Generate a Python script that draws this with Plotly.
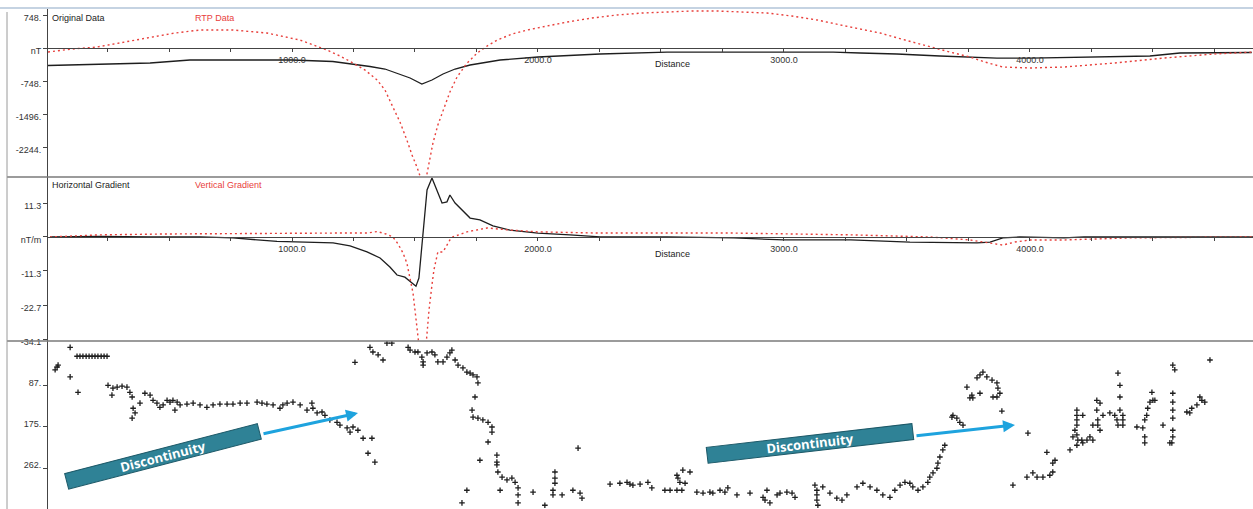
import plotly.graph_objects as go

# ---------------- Panel 1: Original Data / RTP Data (nT) ----------------
orig_dist = [8, 219, 423, 585, 829, 999, 1166, 1248, 1317, 1378, 1439, 1480, 1528, 1569, 1614, 1663,
             1724, 1846, 2000, 2252, 2525, 2797, 3000, 3200, 3310, 3459, 3634, 3756, 3866, 4000,
             4244, 4488, 4610, 4801, 4902]
orig_val = [-397, -374, -340, -272, -272, -272, -306, -363, -419, -476, -589, -680, -816, -725, -589, -476,
            -385, -272, -204, -136, -91, -91, -91, -91, -113, -136, -181, -204, -227, -227,
            -204, -181, -113, -113, -102]

rtp_dist = [8, 106, 207, 321, 423, 524, 626, 760, 898, 1032, 1142, 1195, 1248, 1297, 1346, 1378, 1410,
            1439, 1467, 1488, 1508, 1524, 1545, 1573, 1593, 1614, 1642, 1671, 1712, 1753, 1793, 1834,
            1895, 1956, 2037, 2118, 2220, 2321, 2423, 2525, 2626, 2728, 2830, 2931, 3033, 3135, 3269,
            3391, 3492, 3594, 3675, 3756, 3817, 3890, 4000, 4139, 4342, 4545, 4749, 4907]
rtp_val = [-91, -23, 23, 136, 249, 340, 408, 408, 340, 181, -45, -181, -340, -499, -725, -952, -1337,
           -1678, -2085, -2426, -2698, -2960, -2960, -2154, -1746, -1405, -997, -657, -340, -113, 45, 181,
           317, 408, 499, 589, 680, 748, 793, 816, 839, 839, 816, 793, 725, 635, 476,
           340, 181, 23, -91, -204, -317, -431, -453, -431, -340, -227, -136, -91]

# ---------------- Panel 2: Horizontal / Vertical Gradient (nT/m) ----------------
hgrad_dist = [16, 219, 423, 626, 760, 939, 1167, 1236, 1305, 1358, 1398, 1427, 1459, 1492, 1504, 1516,
              1532, 1549, 1569, 1589, 1610, 1630, 1642, 1663, 1691, 1724, 1764, 1817, 1886, 2000, 2130,
              2252, 2525, 2797, 3000, 3272, 3512, 3675, 3785, 3838, 3890, 3959, 4139, 4220, 4907]
hgrad_val = [0, 0.2, 0, 0, -0.3, -1.5, -2, -3, -5, -7, -10, -12.7, -13.4, -15.7, -16.4, -13.7,
             0, 15.7, 19.7, 15.7, 11.3, 11.7, 14, 11.3, 9, 6.3, 5.7, 3.7, 2.3, 1.3, 0.7,
             0, 0, -0.3, -1, -1, -1.7, -2, -2, -1.7, -0.3, 0, -0.3, 0, 0]

vgrad_dist = [16, 219, 492, 898, 1167, 1305, 1346, 1382, 1410, 1431, 1451, 1467, 1480, 1492, 1500, 1508,
              1516, 1545, 1557, 1569, 1577, 1593, 1614, 1642, 1654, 1711, 1793, 1886, 2000, 2252, 2797,
              3272, 3594, 3756, 3838, 3890, 3939, 4000, 4139, 4411, 4907]
vgrad_val = [0, 0.7, 1, 1.3, 1.3, 1.3, 1.8, 1, 0, -2.3, -5.3, -8.7, -13.4, -18.7, -24.4, -29.4,
             -36, -36, -24.4, -16, -11, -5, -5, -1, 0, 1.7, 3, 2.3, 1.7, 1.3, 1.3,
             0.7, 0, -1, -2, -2.7, -1.7, -1, -1, -0.3, 0]

# ---------------- Panel 3: scattered points (inverted axis) ----------------
pts_a_dist = [37, 45, 49, 98, 98, 130, 126, 138, 150, 163, 175, 187, 199, 211, 224, 236, 248,
              252, 268, 272, 289, 309, 329, 341, 350, 354, 362, 350, 382, 402, 423, 435, 451, 463,
              476, 492, 504, 516, 524, 533, 545, 573, 598, 626, 654, 679, 707, 736, 760, 789, 817,
              858, 878, 898, 923, 951, 963, 980, 1004, 1033, 1061, 1081, 1085, 1102, 1122, 1134,
              1154, 1183, 1195, 1224, 1236, 1248, 1268, 1289, 1325, 1309, 1337]
pts_a_val = [53, 47, 43, 5, 68, 101, 24, 24, 24, 24, 24, 24, 24, 24, 24, 24, 24,
             86, 107, 92, 90, 88, 90, 101, 111, 135, 145, 156, 124, 103, 107, 118, 124, 133,
             128, 118, 122, 118, 139, 122, 128, 126, 124, 128, 133, 128, 126, 126, 126, 124, 124,
             122, 124, 126, 128, 135, 128, 124, 122, 128, 139, 124, 135, 145, 143, 150,
             160, 165, 171, 177, 186, 175, 182, 199, 199, 231, 250]

pts_b_dist = [1256, 1317, 1329, 1350, 1370, 1386, 1406, 1480, 1500, 1472, 1512, 1528, 1533, 1533,
              1549, 1569, 1581, 1593, 1614, 1630, 1642, 1650, 1663, 1675, 1695, 1711, 1724, 1736,
              1752, 1756, 1744, 1732, 1736, 1756, 1776, 1797, 1813, 1813, 1797, 1764, 1833, 1833,
              1833, 1837, 1854, 1874, 1894, 1907, 1919, 1919, 1980, 1846, 1711, 1691, 1919, 2028,
              2069, 2069, 2069, 2061, 2061, 2098, 2163, 2142, 2171, 2179]
pts_b_val = [37, 5, 15, 21, 32, -4, -4, 11, 15, 5, 15, 26, 36, 43,
             17, 15, 21, 36, 36, 26, 17, 11, 32, 43, 49, 58, 60, 64,
             68, 81, 111, 139, 154, 156, 160, 165, 175, 186, 207, 246, 235, 250,
             256, 271, 282, 288, 284, 293, 305, 320, 314, 310, 310, 337, 337, 342,
             271, 284, 295, 310, 320, 320, 220, 310, 316, 327]

pts_c_dist = [2293, 2333, 2362, 2374, 2386, 2415, 2447, 2463, 2516, 2537, 2565, 2585, 2565, 2569,
              2577, 2598, 2618, 2589, 2646, 2671, 2699, 2711, 2740, 2760, 2772, 2809, 2862, 2915,
              2923, 2931, 2943, 2972, 2984, 3012, 3033, 3045, 3126, 3134, 3134, 3134, 3138, 3158,
              3187, 3215, 3236, 3256, 3297, 3321, 3350, 3378, 3402, 3431, 3451, 3472, 3492, 3512,
              3524, 3545, 3565, 3585, 3593, 3606, 3622, 3626, 3634, 3646, 3654]
pts_c_val = [297, 295, 293, 297, 299, 297, 293, 305, 310, 310, 310, 310, 278, 284,
             293, 295, 271, 267, 314, 316, 314, 316, 310, 314, 305, 320, 316, 325,
             331, 310, 337, 320, 316, 314, 316, 325, 299, 310, 320, 331, 342, 303,
             316, 327, 331, 320, 303, 295, 303, 310, 320, 325, 310, 299, 293, 295,
             303, 310, 303, 293, 282, 273, 263, 252, 239, 224, 214]

pts_d_dist = [3683, 3687, 3703, 3715, 3728, 3744, 3756, 3764, 3768, 3785, 3797, 3797, 3809, 3825,
              3846, 3850, 3866, 3866, 3870, 3878, 3886, 3931, 3988, 3992, 4012, 4029, 4053, 4069,
              4081, 4093, 4093, 4102, 4163, 4175, 4183, 4191, 4191, 4191, 4191, 4191, 4191, 4195,
              4211, 4215, 4215, 4232, 4244, 4256, 4256, 4272, 4272, 4276, 4276, 4285, 4285, 4297,
              4325, 4345, 4354, 4358, 4358, 4366, 4366, 4366, 4378, 4378, 4378, 4435, 4459, 4467,
              4467, 4467, 4475, 4479, 4488, 4496, 4500, 4508, 4541, 4569, 4577, 4581, 4589, 4581,
              4581, 4581, 4581, 4581, 4581, 4638, 4650, 4658, 4679, 4691, 4699, 4711, 4732]
pts_d_val = [154, 150, 156, 165, 171, 90, 113, 107, 113, 70, 64, 103, 58, 68,
             75, 111, 81, 111, 92, 103, 141, 299, 282, 188, 273, 282, 282, 229,
             278, 271, 252, 246, 224, 196, 182, 214, 192, 171, 160, 150, 139, 203,
             203, 209, 150, 203, 196, 203, 171, 118, 139, 160, 171, 124, 182, 150,
             145, 150, 160, 171, 60, 86, 111, 139, 150, 160, 171, 175, 177, 160,
             196, 209, 150, 135, 122, 101, 118, 118, 171, 209, 209, 43, 53, 103,
             122, 139, 156, 182, 196, 143, 145, 135, 128, 111, 118, 122, 32]

# ---------------- Axis tick labels ----------------
p1_tickvals = [748, 0, -748, -1496, -2244]
p1_ticktext = ["748.", "nT", "-748.", "-1496.", "-2244."]
p2_tickvals = [11.3, 0, -11.3, -22.7, -34.1]
p2_ticktext = ["11.3", "nT/m", "-11.3", "-22.7", "-34.1"]
p3_tickvals = [87.5, 175, 262.5]
p3_ticktext = ["87.", "175.", "262."]

W, H = 1253, 509
L = 48
PW = W - L


def px(xp):
    return (xp - L) / PW


def py(yp):
    return 1 - yp / H


BLACK = "#1e1e1e"
RED = "#e8403c"
TICKFONT = dict(family="Liberation Sans, Arial, sans-serif", size=9, color="#333333")

fig = go.Figure()
fig.add_trace(go.Scatter(x=orig_dist, y=orig_val, mode="lines", line=dict(color=BLACK, width=1.3),
                         xaxis="x", yaxis="y", showlegend=False))
fig.add_trace(go.Scatter(x=rtp_dist, y=rtp_val, mode="lines", line=dict(color=RED, width=1.4, dash="2px,3px"),
                         xaxis="x", yaxis="y", showlegend=False))
fig.add_trace(go.Scatter(x=hgrad_dist, y=hgrad_val, mode="lines", line=dict(color=BLACK, width=1.3),
                         xaxis="x2", yaxis="y2", showlegend=False))
fig.add_trace(go.Scatter(x=vgrad_dist, y=vgrad_val, mode="lines", line=dict(color=RED, width=1.4, dash="2px,3px"),
                         xaxis="x2", yaxis="y2", showlegend=False))
for dd, vv in [(pts_a_dist, pts_a_val), (pts_b_dist, pts_b_val), (pts_c_dist, pts_c_val), (pts_d_dist, pts_d_val)]:
    fig.add_trace(go.Scatter(x=dd, y=vv, mode="markers",
                             marker=dict(symbol="cross-thin", size=4, color=BLACK,
                                         line=dict(color=BLACK, width=1.3)),
                             xaxis="x3", yaxis="y3", showlegend=False, cliponaxis=True))

xrange = [8, 4907]
common_x = dict(range=xrange, showgrid=False, zeroline=False, showline=True, linecolor="#444444",
                linewidth=1, ticks="outside", ticklen=3, tickcolor="#444444", tickformat=".1f",
                dtick=1000, tick0=0, tickfont=TICKFONT, domain=[0, 1], automargin=False,
                minor=dict(ticks="outside", ticklen=3, dtick=250, tick0=0, tickcolor="#444444"))
common_y = dict(showgrid=False, zeroline=False, showline=True, linecolor="#444444", linewidth=1,
                ticks="outside", ticklen=4, tickcolor="#444444", tickfont=TICKFONT, ticklabelshift=3,
                automargin=False)

fig.update_layout(
    width=W, height=H,
    margin=dict(l=L, r=0, t=0, b=0, autoexpand=False),
    paper_bgcolor="white", plot_bgcolor="white",
    xaxis=dict(common_x, anchor="free", position=py(48)),
    yaxis=dict(common_y, domain=[py(177), py(8)], range=[-2924, 907], anchor="x",
               tickmode="array", tickvals=p1_tickvals, ticktext=p1_ticktext),
    xaxis2=dict(common_x, anchor="free", position=py(237)),
    yaxis2=dict(common_y, domain=[py(341), py(177)], range=[-34.7, 20.0], anchor="x2",
                tickmode="array", tickvals=p2_tickvals, ticktext=p2_ticktext),
    xaxis3=dict(range=xrange, visible=False, domain=[0, 1], anchor="y3", automargin=False),
    yaxis3=dict(common_y, domain=[0, py(341)], range=[350, -8.5], anchor="x3",
                tickmode="array", tickvals=p3_tickvals, ticktext=p3_ticktext),
)

# frame lines
shapes = [
    dict(type="line", xref="paper", yref="paper", x0=px(0), x1=1, y0=py(8), y1=py(8),
         line=dict(color="#c5d3e2", width=2)),
    dict(type="line", xref="paper", yref="paper", x0=px(7), x1=1, y0=py(177), y1=py(177),
         line=dict(color="#7a7a7a", width=1.5)),
    dict(type="line", xref="paper", yref="paper", x0=px(7), x1=1, y0=py(341), y1=py(341),
         line=dict(color="#7a7a7a", width=1.5)),
    dict(type="line", xref="paper", yref="paper", x0=px(7), x1=px(7), y0=0, y1=py(12),
         line=dict(color="#9a9a9a", width=1)),
]
fig.update_layout(shapes=shapes)

LABELFONT = dict(family="Liberation Sans, Arial, sans-serif", size=9, color="#222222")
annots = [
    dict(text="Original Data", x=px(50), y=py(18), font=LABELFONT),
    dict(text="RTP Data", x=px(193), y=py(18), font=dict(LABELFONT, color=RED)),
    dict(text="Horizontal Gradient", x=px(50), y=py(185), font=LABELFONT),
    dict(text="Vertical Gradient", x=px(193), y=py(185), font=dict(LABELFONT, color=RED)),
]
for a in annots:
    a.update(xref="paper", yref="paper", xanchor="left", yanchor="middle", showarrow=False)
for yy in (64, 254):
    annots.append(dict(text="Distance", x=px(672), y=py(yy), xref="paper", yref="paper",
                       xanchor="center", yanchor="middle", showarrow=False, font=LABELFONT))

BOXFONT = dict(family="Open Sans, Lato, sans-serif", size=13, color="white")
for cx, cy, ang, wd in [(162.5, 456.5, -14.5, 198), (809.5, 443.5, -6.6, 206)]:
    annots.append(dict(text="<b>Discontinuity</b>", x=px(cx), y=py(cy), xref="paper", yref="paper",
                       xanchor="center", yanchor="middle", showarrow=False, textangle=ang,
                       width=wd, height=15, borderpad=0, bgcolor="#2f8296", bordercolor="#1d5968",
                       borderwidth=1, font=BOXFONT))
for hx, hy, tx, ty in [(358, 413, 262, 434), (1015, 425, 915, 436)]:
    annots.append(dict(text="", x=px(hx), y=py(hy), xref="paper", yref="paper",
                       ax=tx - hx, ay=ty - hy, showarrow=True, arrowhead=2, arrowsize=0.8,
                       arrowwidth=3, arrowcolor="#1ea3de"))
fig.update_layout(annotations=annots)

fig.write_html("out.html", config={"displayModeBar": False},
               post_script="document.body.style.margin='0px';document.body.style.overflow='hidden';")
